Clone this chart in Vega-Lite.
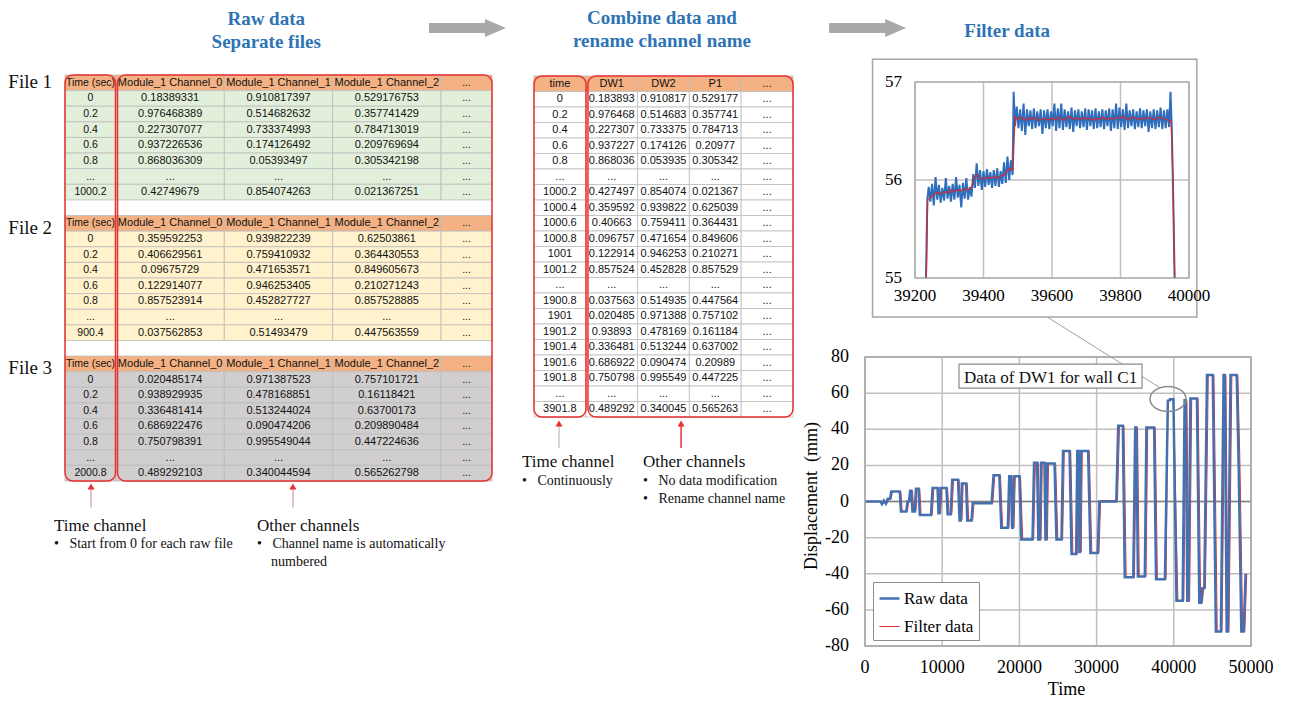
{
"$schema":"https://vega.github.io/schema/vega-lite/v6.json",
"width":1291,"height":704,"autosize":{"type":"none"},"padding":0,"background":"#ffffff",
"config":{"view":{"stroke":null}},
"resolve":{"scale":{"x":"independent","y":"independent"},"axis":{"x":"independent","y":"independent"}},
"datasets":{
"left":[
{"r":0,"k":"h","t":"Time (sec)","c0":"Module_1 Channel_0","c1":"Module_1 Channel_1","c2":"Module_1 Channel_2","d":"..."},
{"r":1,"k":"f1","t":"0","c0":"0.18389331","c1":"0.910817397","c2":"0.529176753","d":"..."},
{"r":2,"k":"f1","t":"0.2","c0":"0.976468389","c1":"0.514682632","c2":"0.357741429","d":"..."},
{"r":3,"k":"f1","t":"0.4","c0":"0.227307077","c1":"0.733374993","c2":"0.784713019","d":"..."},
{"r":4,"k":"f1","t":"0.6","c0":"0.937226536","c1":"0.174126492","c2":"0.209769694","d":"..."},
{"r":5,"k":"f1","t":"0.8","c0":"0.868036309","c1":"0.05393497","c2":"0.305342198","d":"..."},
{"r":6,"k":"f1","t":"...","c0":"...","c1":"...","c2":"...","d":"..."},
{"r":7,"k":"f1","t":"1000.2","c0":"0.42749679","c1":"0.854074263","c2":"0.021367251","d":"..."},
{"r":8,"k":"b","t":"","c0":"","c1":"","c2":"","d":""},
{"r":9,"k":"h","t":"Time (sec)","c0":"Module_1 Channel_0","c1":"Module_1 Channel_1","c2":"Module_1 Channel_2","d":"..."},
{"r":10,"k":"f2","t":"0","c0":"0.359592253","c1":"0.939822239","c2":"0.62503861","d":"..."},
{"r":11,"k":"f2","t":"0.2","c0":"0.406629561","c1":"0.759410932","c2":"0.364430553","d":"..."},
{"r":12,"k":"f2","t":"0.4","c0":"0.09675729","c1":"0.471653571","c2":"0.849605673","d":"..."},
{"r":13,"k":"f2","t":"0.6","c0":"0.122914077","c1":"0.946253405","c2":"0.210271243","d":"..."},
{"r":14,"k":"f2","t":"0.8","c0":"0.857523914","c1":"0.452827727","c2":"0.857528885","d":"..."},
{"r":15,"k":"f2","t":"...","c0":"...","c1":"...","c2":"...","d":"..."},
{"r":16,"k":"f2","t":"900.4","c0":"0.037562853","c1":"0.51493479","c2":"0.447563559","d":"..."},
{"r":17,"k":"b","t":"","c0":"","c1":"","c2":"","d":""},
{"r":18,"k":"h","t":"Time (sec)","c0":"Module_1 Channel_0","c1":"Module_1 Channel_1","c2":"Module_1 Channel_2","d":"..."},
{"r":19,"k":"f3","t":"0","c0":"0.020485174","c1":"0.971387523","c2":"0.757101721","d":"..."},
{"r":20,"k":"f3","t":"0.2","c0":"0.938929935","c1":"0.478168851","c2":"0.16118421","d":"..."},
{"r":21,"k":"f3","t":"0.4","c0":"0.336481414","c1":"0.513244024","c2":"0.63700173","d":"..."},
{"r":22,"k":"f3","t":"0.6","c0":"0.686922476","c1":"0.090474206","c2":"0.209890484","d":"..."},
{"r":23,"k":"f3","t":"0.8","c0":"0.750798391","c1":"0.995549044","c2":"0.447224636","d":"..."},
{"r":24,"k":"f3","t":"...","c0":"...","c1":"...","c2":"...","d":"..."},
{"r":25,"k":"f3","t":"2000.8","c0":"0.489292103","c1":"0.340044594","c2":"0.565262798","d":"..."}
],
"mid":[
{"r":0,"k":"h","t":"time","c0":"DW1","c1":"DW2","c2":"P1","d":"..."},
{"r":1,"k":"m","t":"0","c0":"0.183893","c1":"0.910817","c2":"0.529177","d":"..."},
{"r":2,"k":"m","t":"0.2","c0":"0.976468","c1":"0.514683","c2":"0.357741","d":"..."},
{"r":3,"k":"m","t":"0.4","c0":"0.227307","c1":"0.733375","c2":"0.784713","d":"..."},
{"r":4,"k":"m","t":"0.6","c0":"0.937227","c1":"0.174126","c2":"0.20977","d":"..."},
{"r":5,"k":"m","t":"0.8","c0":"0.868036","c1":"0.053935","c2":"0.305342","d":"..."},
{"r":6,"k":"m","t":"...","c0":"...","c1":"...","c2":"...","d":"..."},
{"r":7,"k":"m","t":"1000.2","c0":"0.427497","c1":"0.854074","c2":"0.021367","d":"..."},
{"r":8,"k":"m","t":"1000.4","c0":"0.359592","c1":"0.939822","c2":"0.625039","d":"..."},
{"r":9,"k":"m","t":"1000.6","c0":"0.40663","c1":"0.759411","c2":"0.364431","d":"..."},
{"r":10,"k":"m","t":"1000.8","c0":"0.096757","c1":"0.471654","c2":"0.849606","d":"..."},
{"r":11,"k":"m","t":"1001","c0":"0.122914","c1":"0.946253","c2":"0.210271","d":"..."},
{"r":12,"k":"m","t":"1001.2","c0":"0.857524","c1":"0.452828","c2":"0.857529","d":"..."},
{"r":13,"k":"m","t":"...","c0":"...","c1":"...","c2":"...","d":"..."},
{"r":14,"k":"m","t":"1900.8","c0":"0.037563","c1":"0.514935","c2":"0.447564","d":"..."},
{"r":15,"k":"m","t":"1901","c0":"0.020485","c1":"0.971388","c2":"0.757102","d":"..."},
{"r":16,"k":"m","t":"1901.2","c0":"0.93893","c1":"0.478169","c2":"0.161184","d":"..."},
{"r":17,"k":"m","t":"1901.4","c0":"0.336481","c1":"0.513244","c2":"0.637002","d":"..."},
{"r":18,"k":"m","t":"1901.6","c0":"0.686922","c1":"0.090474","c2":"0.20989","d":"..."},
{"r":19,"k":"m","t":"1901.8","c0":"0.750798","c1":"0.995549","c2":"0.447225","d":"..."},
{"r":20,"k":"m","t":"...","c0":"...","c1":"...","c2":"...","d":"..."},
{"r":21,"k":"m","t":"3901.8","c0":"0.489292","c1":"0.340045","c2":"0.565263","d":"..."}
],
"iticks":[
{"a":"x","v":39200,"lab":"39200"},{"a":"x","v":39400,"lab":"39400"},{"a":"x","v":39600,"lab":"39600"},{"a":"x","v":39800,"lab":"39800"},{"a":"x","v":40000,"lab":"40000"},
{"a":"y","v":55,"lab":"55"},{"a":"y","v":56,"lab":"56"},{"a":"y","v":57,"lab":"57"}
],
"mticks":[
{"a":"x","v":0,"lab":"0"},{"a":"x","v":10000,"lab":"10000"},{"a":"x","v":20000,"lab":"20000"},{"a":"x","v":30000,"lab":"30000"},{"a":"x","v":40000,"lab":"40000"},{"a":"x","v":50000,"lab":"50000"},
{"a":"y","v":-80,"lab":"-80"},{"a":"y","v":-60,"lab":"-60"},{"a":"y","v":-40,"lab":"-40"},{"a":"y","v":-20,"lab":"-20"},{"a":"y","v":0,"lab":"0"},{"a":"y","v":20,"lab":"20"},{"a":"y","v":40,"lab":"40"},{"a":"y","v":60,"lab":"60"},{"a":"y","v":80,"lab":"80"}
],
"inset":[
{"s":"r","t":39232,"v":55.0},{"s":"r","t":39236,"v":55.8},{"s":"r","t":39240,"v":55.93},{"s":"r","t":39245,"v":55.78},{"s":"r","t":39250,"v":55.96},{"s":"r","t":39255,"v":55.74},{"s":"r","t":39260,"v":56.03},{"s":"r","t":39265,"v":55.8},{"s":"r","t":39270,"v":55.95},{"s":"r","t":39275,"v":55.77},{"s":"r","t":39280,"v":55.92},{"s":"r","t":39285,"v":55.79},{"s":"r","t":39290,"v":56.02},{"s":"r","t":39295,"v":55.81},{"s":"r","t":39300,"v":55.94},{"s":"r","t":39305,"v":55.78},{"s":"r","t":39310,"v":55.96},{"s":"r","t":39315,"v":55.8},{"s":"r","t":39320,"v":56.03},{"s":"r","t":39325,"v":55.82},{"s":"r","t":39330,"v":55.95},{"s":"r","t":39335,"v":55.72},{"s":"r","t":39340,"v":55.97},{"s":"r","t":39345,"v":55.81},{"s":"r","t":39350,"v":56.02},{"s":"r","t":39355,"v":55.8},{"s":"r","t":39360,"v":55.93},{"s":"r","t":39365,"v":55.83},{"s":"r","t":39370,"v":56.06},{"s":"r","t":39375,"v":55.92},{"s":"r","t":39380,"v":56.17},{"s":"r","t":39385,"v":55.94},{"s":"r","t":39390,"v":56.1},{"s":"r","t":39395,"v":55.9},{"s":"r","t":39400,"v":56.09},{"s":"r","t":39405,"v":55.93},{"s":"r","t":39410,"v":56.11},{"s":"r","t":39415,"v":55.95},{"s":"r","t":39420,"v":56.08},{"s":"r","t":39425,"v":55.92},{"s":"r","t":39430,"v":56.1},{"s":"r","t":39435,"v":55.94},{"s":"r","t":39440,"v":56.12},{"s":"r","t":39445,"v":55.93},{"s":"r","t":39450,"v":56.09},{"s":"r","t":39455,"v":55.96},{"s":"r","t":39460,"v":56.18},{"s":"r","t":39465,"v":55.97},{"s":"r","t":39470,"v":56.24},{"s":"r","t":39475,"v":56.0},{"s":"r","t":39480,"v":56.2},{"s":"r","t":39485,"v":56.05},{"s":"r","t":39488,"v":56.9},
{"s":"r","t":39492,"v":56.55},{"s":"r","t":39497,"v":56.75},{"s":"r","t":39502,"v":56.53},{"s":"r","t":39507,"v":56.72},{"s":"r","t":39512,"v":56.5},{"s":"r","t":39517,"v":56.78},{"s":"r","t":39522,"v":56.46},{"s":"r","t":39527,"v":56.72},{"s":"r","t":39532,"v":56.55},{"s":"r","t":39537,"v":56.71},{"s":"r","t":39542,"v":56.52},{"s":"r","t":39547,"v":56.73},{"s":"r","t":39552,"v":56.53},{"s":"r","t":39557,"v":56.7},{"s":"r","t":39562,"v":56.55},{"s":"r","t":39567,"v":56.72},{"s":"r","t":39572,"v":56.47},{"s":"r","t":39577,"v":56.71},{"s":"r","t":39582,"v":56.53},{"s":"r","t":39587,"v":56.72},{"s":"r","t":39592,"v":56.52},{"s":"r","t":39597,"v":56.7},{"s":"r","t":39602,"v":56.55},{"s":"r","t":39607,"v":56.78},{"s":"r","t":39612,"v":56.5},{"s":"r","t":39617,"v":56.73},{"s":"r","t":39622,"v":56.53},{"s":"r","t":39627,"v":56.78},{"s":"r","t":39632,"v":56.51},{"s":"r","t":39637,"v":56.72},{"s":"r","t":39642,"v":56.54},{"s":"r","t":39647,"v":56.7},{"s":"r","t":39652,"v":56.52},{"s":"r","t":39657,"v":56.74},{"s":"r","t":39662,"v":56.49},{"s":"r","t":39667,"v":56.71},{"s":"r","t":39672,"v":56.55},{"s":"r","t":39677,"v":56.72},{"s":"r","t":39682,"v":56.53},{"s":"r","t":39687,"v":56.7},{"s":"r","t":39692,"v":56.54},{"s":"r","t":39697,"v":56.73},{"s":"r","t":39702,"v":56.51},{"s":"r","t":39707,"v":56.72},{"s":"r","t":39712,"v":56.55},{"s":"r","t":39717,"v":56.71},{"s":"r","t":39722,"v":56.52},{"s":"r","t":39727,"v":56.73},{"s":"r","t":39732,"v":56.53},{"s":"r","t":39737,"v":56.7},{"s":"r","t":39742,"v":56.54},{"s":"r","t":39747,"v":56.72},{"s":"r","t":39752,"v":56.52},{"s":"r","t":39757,"v":56.71},{"s":"r","t":39762,"v":56.55},{"s":"r","t":39767,"v":56.73},{"s":"r","t":39772,"v":56.5},{"s":"r","t":39777,"v":56.72},{"s":"r","t":39782,"v":56.53},{"s":"r","t":39787,"v":56.78},{"s":"r","t":39792,"v":56.52},{"s":"r","t":39797,"v":56.74},{"s":"r","t":39802,"v":56.54},{"s":"r","t":39807,"v":56.72},{"s":"r","t":39812,"v":56.51},{"s":"r","t":39817,"v":56.78},{"s":"r","t":39822,"v":56.53},{"s":"r","t":39827,"v":56.71},{"s":"r","t":39832,"v":56.55},{"s":"r","t":39837,"v":56.72},{"s":"r","t":39842,"v":56.52},{"s":"r","t":39847,"v":56.7},{"s":"r","t":39852,"v":56.54},{"s":"r","t":39857,"v":56.73},{"s":"r","t":39862,"v":56.53},{"s":"r","t":39867,"v":56.71},{"s":"r","t":39872,"v":56.55},{"s":"r","t":39877,"v":56.72},{"s":"r","t":39882,"v":56.49},{"s":"r","t":39887,"v":56.7},{"s":"r","t":39892,"v":56.53},{"s":"r","t":39897,"v":56.72},{"s":"r","t":39902,"v":56.52},{"s":"r","t":39907,"v":56.71},{"s":"r","t":39912,"v":56.54},{"s":"r","t":39917,"v":56.74},{"s":"r","t":39922,"v":56.52},{"s":"r","t":39927,"v":56.71},{"s":"r","t":39932,"v":56.53},{"s":"r","t":39937,"v":56.72},{"s":"r","t":39942,"v":56.54},{"s":"r","t":39946,"v":56.9},{"s":"r","t":39950,"v":56.5},{"s":"r","t":39954,"v":55.8},{"s":"r","t":39958,"v":55.0},
{"s":"f","t":39233,"v":55.0},{"s":"f","t":39237,"v":55.8},{"s":"f","t":39245,"v":55.82},{"s":"f","t":39255,"v":55.85},{"s":"f","t":39265,"v":55.87},{"s":"f","t":39275,"v":55.86},{"s":"f","t":39285,"v":55.88},{"s":"f","t":39295,"v":55.87},{"s":"f","t":39305,"v":55.9},{"s":"f","t":39315,"v":55.88},{"s":"f","t":39325,"v":55.9},{"s":"f","t":39335,"v":55.89},{"s":"f","t":39345,"v":55.91},{"s":"f","t":39355,"v":55.9},{"s":"f","t":39365,"v":55.92},{"s":"f","t":39372,"v":56.03},{"s":"f","t":39380,"v":56.05},{"s":"f","t":39390,"v":56.02},{"s":"f","t":39400,"v":56.01},{"s":"f","t":39410,"v":56.03},{"s":"f","t":39420,"v":56.02},{"s":"f","t":39430,"v":56.03},{"s":"f","t":39440,"v":56.02},{"s":"f","t":39450,"v":56.04},{"s":"f","t":39460,"v":56.05},{"s":"f","t":39470,"v":56.1},{"s":"f","t":39480,"v":56.12},{"s":"f","t":39486,"v":56.1},{"s":"f","t":39492,"v":56.65},{"s":"f","t":39500,"v":56.62},{"s":"f","t":39510,"v":56.64},{"s":"f","t":39520,"v":56.61},{"s":"f","t":39530,"v":56.63},{"s":"f","t":39540,"v":56.62},{"s":"f","t":39550,"v":56.64},{"s":"f","t":39560,"v":56.61},{"s":"f","t":39570,"v":56.62},{"s":"f","t":39580,"v":56.63},{"s":"f","t":39590,"v":56.61},{"s":"f","t":39600,"v":56.63},{"s":"f","t":39610,"v":56.62},{"s":"f","t":39620,"v":56.64},{"s":"f","t":39630,"v":56.61},{"s":"f","t":39640,"v":56.63},{"s":"f","t":39650,"v":56.65},{"s":"f","t":39660,"v":56.62},{"s":"f","t":39670,"v":56.63},{"s":"f","t":39680,"v":56.62},{"s":"f","t":39690,"v":56.64},{"s":"f","t":39700,"v":56.62},{"s":"f","t":39710,"v":56.63},{"s":"f","t":39720,"v":56.61},{"s":"f","t":39730,"v":56.63},{"s":"f","t":39740,"v":56.62},{"s":"f","t":39750,"v":56.64},{"s":"f","t":39760,"v":56.62},{"s":"f","t":39770,"v":56.63},{"s":"f","t":39780,"v":56.62},{"s":"f","t":39790,"v":56.64},{"s":"f","t":39800,"v":56.63},{"s":"f","t":39810,"v":56.65},{"s":"f","t":39820,"v":56.62},{"s":"f","t":39830,"v":56.63},{"s":"f","t":39840,"v":56.64},{"s":"f","t":39850,"v":56.62},{"s":"f","t":39860,"v":56.63},{"s":"f","t":39870,"v":56.62},{"s":"f","t":39880,"v":56.64},{"s":"f","t":39890,"v":56.63},{"s":"f","t":39900,"v":56.62},{"s":"f","t":39910,"v":56.64},{"s":"f","t":39920,"v":56.63},{"s":"f","t":39930,"v":56.62},{"s":"f","t":39940,"v":56.61},{"s":"f","t":39948,"v":56.6},{"s":"f","t":39953,"v":56.0},{"s":"f","t":39958,"v":55.0}
],
"main":[
{"s":"Raw data","t":0,"v":0},{"s":"Raw data","t":2000,"v":0},{"s":"Raw data","t":2200,"v":-1.5},{"s":"Raw data","t":2450,"v":0.5},{"s":"Raw data","t":2700,"v":-1.2},{"s":"Raw data","t":2950,"v":1.5},{"s":"Raw data","t":3250,"v":1.5},{"s":"Raw data","t":3400,"v":5.5},{"s":"Raw data","t":4500,"v":5.5},{"s":"Raw data","t":4650,"v":-5.5},{"s":"Raw data","t":5350,"v":-5.5},{"s":"Raw data","t":5500,"v":0},{"s":"Raw data","t":5700,"v":0},{"s":"Raw data","t":5850,"v":6},{"s":"Raw data","t":6000,"v":6},{"s":"Raw data","t":6150,"v":-5.5},{"s":"Raw data","t":6450,"v":-5.5},{"s":"Raw data","t":6600,"v":7},{"s":"Raw data","t":6950,"v":7},{"s":"Raw data","t":7100,"v":-7.5},{"s":"Raw data","t":8550,"v":-7.5},{"s":"Raw data","t":8750,"v":7.5},{"s":"Raw data","t":9400,"v":7.5},{"s":"Raw data","t":9520,"v":-6.5},{"s":"Raw data","t":9650,"v":-6.5},{"s":"Raw data","t":9780,"v":7.5},{"s":"Raw data","t":10550,"v":7.5},{"s":"Raw data","t":10700,"v":-7},{"s":"Raw data","t":11100,"v":-7},{"s":"Raw data","t":11300,"v":12},{"s":"Raw data","t":12050,"v":12},{"s":"Raw data","t":12250,"v":-10.5},{"s":"Raw data","t":12400,"v":-10.5},{"s":"Raw data","t":12550,"v":10},{"s":"Raw data","t":13100,"v":10},{"s":"Raw data","t":13250,"v":-10.5},{"s":"Raw data","t":13800,"v":-10.5},{"s":"Raw data","t":13950,"v":-1},{"s":"Raw data","t":16400,"v":-1},{"s":"Raw data","t":16650,"v":14.5},{"s":"Raw data","t":17400,"v":14.5},{"s":"Raw data","t":17650,"v":-14.5},{"s":"Raw data","t":18500,"v":-14.5},{"s":"Raw data","t":18680,"v":14},{"s":"Raw data","t":18900,"v":14},{"s":"Raw data","t":19050,"v":-14.5},{"s":"Raw data","t":19150,"v":-14.5},{"s":"Raw data","t":19300,"v":14},{"s":"Raw data","t":20000,"v":14},{"s":"Raw data","t":20250,"v":-21},{"s":"Raw data","t":21700,"v":-21},{"s":"Raw data","t":21900,"v":21.5},{"s":"Raw data","t":22300,"v":21.5},{"s":"Raw data","t":22450,"v":-21},{"s":"Raw data","t":22650,"v":-21},{"s":"Raw data","t":22800,"v":21.5},{"s":"Raw data","t":23250,"v":21.5},{"s":"Raw data","t":23380,"v":-21},{"s":"Raw data","t":23480,"v":-21},{"s":"Raw data","t":23600,"v":21},{"s":"Raw data","t":24550,"v":21},{"s":"Raw data","t":24800,"v":-21},{"s":"Raw data","t":25450,"v":-21},{"s":"Raw data","t":25650,"v":28},{"s":"Raw data","t":26500,"v":28},{"s":"Raw data","t":26750,"v":-29},{"s":"Raw data","t":27350,"v":-29},{"s":"Raw data","t":27500,"v":28},{"s":"Raw data","t":27650,"v":28},{"s":"Raw data","t":27780,"v":-28},{"s":"Raw data","t":27850,"v":-28},{"s":"Raw data","t":27980,"v":28},{"s":"Raw data","t":28900,"v":28},{"s":"Raw data","t":29200,"v":-28.5},{"s":"Raw data","t":30150,"v":-28.5},{"s":"Raw data","t":30350,"v":0},{"s":"Raw data","t":32550,"v":0},{"s":"Raw data","t":32800,"v":42},{"s":"Raw data","t":33400,"v":42},{"s":"Raw data","t":33650,"v":-42},{"s":"Raw data","t":34750,"v":-42},{"s":"Raw data","t":35000,"v":41},{"s":"Raw data","t":35150,"v":41},{"s":"Raw data","t":35350,"v":-41.5},{"s":"Raw data","t":36250,"v":-41.5},{"s":"Raw data","t":36450,"v":41},{"s":"Raw data","t":37450,"v":41},{"s":"Raw data","t":37700,"v":-43},{"s":"Raw data","t":38850,"v":-43},{"s":"Raw data","t":39230,"v":55.8},{"s":"Raw data","t":39480,"v":56.1},{"s":"Raw data","t":39500,"v":56.6},{"s":"Raw data","t":39950,"v":56.6},{"s":"Raw data","t":40350,"v":-55},{"s":"Raw data","t":41150,"v":-55},{"s":"Raw data","t":41400,"v":56},{"s":"Raw data","t":41550,"v":56},{"s":"Raw data","t":41750,"v":-55},{"s":"Raw data","t":41900,"v":-55},{"s":"Raw data","t":42150,"v":57},{"s":"Raw data","t":43000,"v":57},{"s":"Raw data","t":43300,"v":-56},{"s":"Raw data","t":43550,"v":-56},{"s":"Raw data","t":43700,"v":-48},{"s":"Raw data","t":43950,"v":-48},{"s":"Raw data","t":44300,"v":70},{"s":"Raw data","t":45050,"v":70},{"s":"Raw data","t":45450,"v":-72},{"s":"Raw data","t":46100,"v":-72},{"s":"Raw data","t":46450,"v":70},{"s":"Raw data","t":46600,"v":70},{"s":"Raw data","t":46850,"v":-72},{"s":"Raw data","t":47000,"v":-72},{"s":"Raw data","t":47350,"v":70},{"s":"Raw data","t":48150,"v":70},{"s":"Raw data","t":48400,"v":20},{"s":"Raw data","t":48750,"v":-72},{"s":"Raw data","t":49050,"v":-72},{"s":"Raw data","t":49300,"v":-40},
{"s":"Filter data","t":0,"v":0},{"s":"Filter data","t":2100,"v":0},{"s":"Filter data","t":2350,"v":-1.2},{"s":"Filter data","t":2600,"v":0.3},{"s":"Filter data","t":2850,"v":-1},{"s":"Filter data","t":3100,"v":1.2},{"s":"Filter data","t":3400,"v":1.5},{"s":"Filter data","t":3550,"v":5.5},{"s":"Filter data","t":4650,"v":5.5},{"s":"Filter data","t":4820,"v":-5.5},{"s":"Filter data","t":5500,"v":-5.5},{"s":"Filter data","t":5650,"v":0},{"s":"Filter data","t":5850,"v":0},{"s":"Filter data","t":6000,"v":6},{"s":"Filter data","t":6150,"v":6},{"s":"Filter data","t":6320,"v":-5.5},{"s":"Filter data","t":6600,"v":-5.5},{"s":"Filter data","t":6760,"v":7},{"s":"Filter data","t":7100,"v":7},{"s":"Filter data","t":7270,"v":-7.5},{"s":"Filter data","t":8700,"v":-7.5},{"s":"Filter data","t":8920,"v":7.5},{"s":"Filter data","t":9550,"v":7.5},{"s":"Filter data","t":9700,"v":-6.5},{"s":"Filter data","t":9800,"v":-6.5},{"s":"Filter data","t":9950,"v":7.5},{"s":"Filter data","t":10700,"v":7.5},{"s":"Filter data","t":10880,"v":-7},{"s":"Filter data","t":11250,"v":-7},{"s":"Filter data","t":11470,"v":12},{"s":"Filter data","t":12200,"v":12},{"s":"Filter data","t":12430,"v":-10.5},{"s":"Filter data","t":12560,"v":-10.5},{"s":"Filter data","t":12720,"v":10},{"s":"Filter data","t":13250,"v":10},{"s":"Filter data","t":13430,"v":-10.5},{"s":"Filter data","t":13950,"v":-10.5},{"s":"Filter data","t":14120,"v":-1},{"s":"Filter data","t":16550,"v":-1},{"s":"Filter data","t":16820,"v":14.5},{"s":"Filter data","t":17550,"v":14.5},{"s":"Filter data","t":17830,"v":-14.5},{"s":"Filter data","t":18650,"v":-14.5},{"s":"Filter data","t":18850,"v":14},{"s":"Filter data","t":19050,"v":14},{"s":"Filter data","t":19230,"v":-14.5},{"s":"Filter data","t":19300,"v":-14.5},{"s":"Filter data","t":19470,"v":14},{"s":"Filter data","t":20150,"v":14},{"s":"Filter data","t":20430,"v":-21},{"s":"Filter data","t":21850,"v":-21},{"s":"Filter data","t":22070,"v":21.5},{"s":"Filter data","t":22450,"v":21.5},{"s":"Filter data","t":22630,"v":-21},{"s":"Filter data","t":22800,"v":-21},{"s":"Filter data","t":22970,"v":21.5},{"s":"Filter data","t":23400,"v":21.5},{"s":"Filter data","t":23560,"v":-21},{"s":"Filter data","t":23630,"v":-21},{"s":"Filter data","t":23770,"v":21},{"s":"Filter data","t":24700,"v":21},{"s":"Filter data","t":24980,"v":-21},{"s":"Filter data","t":25600,"v":-21},{"s":"Filter data","t":25820,"v":28},{"s":"Filter data","t":26650,"v":28},{"s":"Filter data","t":26930,"v":-29},{"s":"Filter data","t":27500,"v":-29},{"s":"Filter data","t":27670,"v":28},{"s":"Filter data","t":27800,"v":28},{"s":"Filter data","t":27960,"v":-28},{"s":"Filter data","t":28000,"v":-28},{"s":"Filter data","t":28150,"v":28},{"s":"Filter data","t":29050,"v":28},{"s":"Filter data","t":29380,"v":-28.5},{"s":"Filter data","t":30300,"v":-28.5},{"s":"Filter data","t":30520,"v":0.5},{"s":"Filter data","t":32700,"v":0.5},{"s":"Filter data","t":32970,"v":42},{"s":"Filter data","t":33550,"v":42},{"s":"Filter data","t":33830,"v":-42},{"s":"Filter data","t":34900,"v":-42},{"s":"Filter data","t":35170,"v":41},{"s":"Filter data","t":35300,"v":41},{"s":"Filter data","t":35530,"v":-41.5},{"s":"Filter data","t":36400,"v":-41.5},{"s":"Filter data","t":36620,"v":41},{"s":"Filter data","t":37600,"v":41},{"s":"Filter data","t":37880,"v":-43},{"s":"Filter data","t":39000,"v":-43},{"s":"Filter data","t":39240,"v":55.8},{"s":"Filter data","t":39490,"v":56.1},{"s":"Filter data","t":39510,"v":56.6},{"s":"Filter data","t":39960,"v":56.6},{"s":"Filter data","t":40530,"v":-55},{"s":"Filter data","t":41300,"v":-55},{"s":"Filter data","t":41570,"v":56},{"s":"Filter data","t":41700,"v":56},{"s":"Filter data","t":41930,"v":-55},{"s":"Filter data","t":42050,"v":-55},{"s":"Filter data","t":42320,"v":57},{"s":"Filter data","t":43150,"v":57},{"s":"Filter data","t":43480,"v":-56},{"s":"Filter data","t":43700,"v":-56},{"s":"Filter data","t":43870,"v":-48},{"s":"Filter data","t":44100,"v":-48},{"s":"Filter data","t":44470,"v":70},{"s":"Filter data","t":45200,"v":70},{"s":"Filter data","t":45630,"v":-72},{"s":"Filter data","t":46250,"v":-72},{"s":"Filter data","t":46620,"v":70},{"s":"Filter data","t":46750,"v":70},{"s":"Filter data","t":47030,"v":-72},{"s":"Filter data","t":47150,"v":-72},{"s":"Filter data","t":47520,"v":70},{"s":"Filter data","t":48300,"v":70},{"s":"Filter data","t":48570,"v":20},{"s":"Filter data","t":48930,"v":-72},{"s":"Filter data","t":49200,"v":-72},{"s":"Filter data","t":49450,"v":-40}
]
},
"layer":[
{
"data":{"name":"left"},
"transform":[{"fold":["t","c0","c1","c2","d"],"as":["col","txt"]},{"filter":{"field":"col","oneOf":["t"]}}],
"encoding":{
"x":{"field":"col","type":"nominal","scale":{"type":"band","domain":["t"],"range":[65,116],"paddingInner":0,"paddingOuter":0},"axis":null},
"y":{"field":"r","type":"ordinal","scale":{"type":"band","domain":[0,1,2,3,4,5,6,7,8,9,10,11,12,13,14,15,16,17,18,19,20,21,22,23,24,25],"range":[75,481],"paddingInner":0,"paddingOuter":0},"axis":null}
},
"layer":[
{"transform":[{"filter":"datum.k !== 'b'"}],"mark":{"type":"rect","stroke":"#BDBDBD","strokeWidth":0.8},"encoding":{"fill":{"field":"k","type":"nominal","scale":{"domain":["h","f1","f2","f3","b","m"],"range":["#F4B183","#E2EFDA","#FFF2CC","#D0CECE","#FFFFFF","#FFFFFF"]},"legend":null}}},
{"mark":{"type":"text","font":"Liberation Sans","fontSize":10.5,"color":"#111111"},"encoding":{"text":{"field":"txt","type":"nominal"}}}
]
},
{
"data":{"name":"left"},
"transform":[{"fold":["t","c0","c1","c2","d"],"as":["col","txt"]},{"filter":{"field":"col","oneOf":["c0","c1","c2"]}}],
"encoding":{
"x":{"field":"col","type":"nominal","scale":{"type":"band","domain":["c0","c1","c2"],"range":[116,441],"paddingInner":0,"paddingOuter":0},"axis":null},
"y":{"field":"r","type":"ordinal","scale":{"type":"band","domain":[0,1,2,3,4,5,6,7,8,9,10,11,12,13,14,15,16,17,18,19,20,21,22,23,24,25],"range":[75,481],"paddingInner":0,"paddingOuter":0},"axis":null}
},
"layer":[
{"transform":[{"filter":"datum.k !== 'b'"}],"mark":{"type":"rect","stroke":"#BDBDBD","strokeWidth":0.8},"encoding":{"fill":{"field":"k","type":"nominal","scale":{"domain":["h","f1","f2","f3","b","m"],"range":["#F4B183","#E2EFDA","#FFF2CC","#D0CECE","#FFFFFF","#FFFFFF"]},"legend":null}}},
{"mark":{"type":"text","font":"Liberation Sans","fontSize":11,"color":"#111111"},"encoding":{"text":{"field":"txt","type":"nominal"}}}
]
},
{
"data":{"name":"left"},
"transform":[{"fold":["t","c0","c1","c2","d"],"as":["col","txt"]},{"filter":{"field":"col","oneOf":["d"]}}],
"encoding":{
"x":{"field":"col","type":"nominal","scale":{"type":"band","domain":["d"],"range":[441,492],"paddingInner":0,"paddingOuter":0},"axis":null},
"y":{"field":"r","type":"ordinal","scale":{"type":"band","domain":[0,1,2,3,4,5,6,7,8,9,10,11,12,13,14,15,16,17,18,19,20,21,22,23,24,25],"range":[75,481],"paddingInner":0,"paddingOuter":0},"axis":null}
},
"layer":[
{"transform":[{"filter":"datum.k !== 'b'"}],"mark":{"type":"rect","stroke":"#BDBDBD","strokeWidth":0.8},"encoding":{"fill":{"field":"k","type":"nominal","scale":{"domain":["h","f1","f2","f3","b","m"],"range":["#F4B183","#E2EFDA","#FFF2CC","#D0CECE","#FFFFFF","#FFFFFF"]},"legend":null}}},
{"mark":{"type":"text","font":"Liberation Sans","fontSize":10.5,"color":"#111111"},"encoding":{"text":{"field":"txt","type":"nominal"}}}
]
},
{
"data":{"name":"mid"},
"transform":[{"fold":["t","c0","c1","c2","d"],"as":["col","txt"]}],
"encoding":{
"x":{"field":"col","type":"nominal","scale":{"type":"band","domain":["t","c0","c1","c2","d"],"range":[534,793],"paddingInner":0,"paddingOuter":0},"axis":null},
"y":{"field":"r","type":"ordinal","scale":{"type":"band","domain":[0,1,2,3,4,5,6,7,8,9,10,11,12,13,14,15,16,17,18,19,20,21],"range":[76,417],"paddingInner":0,"paddingOuter":0},"axis":null}
},
"layer":[
{"mark":{"type":"rect","stroke":"#BDBDBD","strokeWidth":0.8},"encoding":{"fill":{"field":"k","type":"nominal","scale":{"domain":["h","f1","f2","f3","b","m"],"range":["#F4B183","#E2EFDA","#FFF2CC","#D0CECE","#FFFFFF","#FFFFFF"]},"legend":null}}},
{"mark":{"type":"text","font":"Liberation Sans","fontSize":11,"color":"#111111"},"encoding":{"text":{"field":"txt","type":"nominal"}}}
]
},
{
"data":{"values":[{}]},
"layer":[
{"mark":{"type":"rect","filled":false,"color":"#E8312F","strokeWidth":1.5,"cornerRadius":8},"encoding":{"x":{"datum":0,"type":"quantitative","scale":{"domain":[0,8],"range":[65,492],"nice":false,"zero":false},"axis":null},"x2":{"datum":0.946},"y":{"datum":0,"type":"quantitative","scale":{"domain":[0,26],"range":[75,481],"nice":false,"zero":false},"axis":null},"y2":{"datum":26}}},
{"mark":{"type":"rect","filled":false,"color":"#E8312F","strokeWidth":1.5,"cornerRadius":8},"encoding":{"x":{"datum":0.984,"type":"quantitative","scale":{"domain":[0,8],"range":[65,492],"nice":false,"zero":false},"axis":null},"x2":{"datum":8},"y":{"datum":0,"type":"quantitative","scale":{"domain":[0,26],"range":[75,481],"nice":false,"zero":false},"axis":null},"y2":{"datum":26}}},
{"mark":{"type":"text","text":"Raw data","font":"Liberation Serif","fontSize":19,"fontWeight":"bold","color":"#2E74B5","align":"center","baseline":"alphabetic"},"encoding":{"x":{"datum":3.77,"type":"quantitative","scale":{"domain":[0,8],"range":[65,492],"nice":false,"zero":false},"axis":null},"y":{"datum":-3.21,"type":"quantitative","scale":{"domain":[0,26],"range":[75,481],"nice":false,"zero":false},"axis":null}}},
{"mark":{"type":"text","text":"Separate files","font":"Liberation Serif","fontSize":19,"fontWeight":"bold","color":"#2E74B5","align":"center","baseline":"alphabetic"},"encoding":{"x":{"datum":3.77,"type":"quantitative","scale":{"domain":[0,8],"range":[65,492],"nice":false,"zero":false},"axis":null},"y":{"datum":-1.73,"type":"quantitative","scale":{"domain":[0,26],"range":[75,481],"nice":false,"zero":false},"axis":null}}},
{"mark":{"type":"point","shape":"M-1,-0.13L0.455,-0.13L0.455,-0.234L1,0L0.455,0.234L0.455,0.13L-1,0.13Z","size":5929,"filled":true,"color":"#A9A9A9","opacity":1,"strokeWidth":0},"encoding":{"x":{"datum":7.54,"type":"quantitative","scale":{"domain":[0,8],"range":[65,492],"nice":false,"zero":false},"axis":null},"y":{"datum":-3.01,"type":"quantitative","scale":{"domain":[0,26],"range":[75,481],"nice":false,"zero":false},"axis":null}}},
{"mark":{"type":"text","text":"File 1","font":"Liberation Serif","fontSize":19,"color":"#111111","align":"left","baseline":"alphabetic"},"encoding":{"x":{"datum":-1.062,"type":"quantitative","scale":{"domain":[0,8],"range":[65,492],"nice":false,"zero":false},"axis":null},"y":{"datum":0.83,"type":"quantitative","scale":{"domain":[0,26],"range":[75,481],"nice":false,"zero":false},"axis":null}}},
{"mark":{"type":"text","text":"File 2","font":"Liberation Serif","fontSize":19,"color":"#111111","align":"left","baseline":"alphabetic"},"encoding":{"x":{"datum":-1.062,"type":"quantitative","scale":{"domain":[0,8],"range":[65,492],"nice":false,"zero":false},"axis":null},"y":{"datum":10.19,"type":"quantitative","scale":{"domain":[0,26],"range":[75,481],"nice":false,"zero":false},"axis":null}}},
{"mark":{"type":"text","text":"File 3","font":"Liberation Serif","fontSize":19,"color":"#111111","align":"left","baseline":"alphabetic"},"encoding":{"x":{"datum":-1.062,"type":"quantitative","scale":{"domain":[0,8],"range":[65,492],"nice":false,"zero":false},"axis":null},"y":{"datum":19.17,"type":"quantitative","scale":{"domain":[0,26],"range":[75,481],"nice":false,"zero":false},"axis":null}}},
{"mark":{"type":"rule","color":"#D9AFAF","strokeWidth":1.5},"encoding":{"x":{"datum":0.488,"type":"quantitative","scale":{"domain":[0,8],"range":[65,492],"nice":false,"zero":false},"axis":null},"y":{"datum":26.5,"type":"quantitative","scale":{"domain":[0,26],"range":[75,481],"nice":false,"zero":false},"axis":null},"y2":{"datum":27.7}}},
{"mark":{"type":"rule","color":"#D9AFAF","strokeWidth":1.5},"encoding":{"x":{"datum":4.27,"type":"quantitative","scale":{"domain":[0,8],"range":[65,492],"nice":false,"zero":false},"axis":null},"y":{"datum":26.5,"type":"quantitative","scale":{"domain":[0,26],"range":[75,481],"nice":false,"zero":false},"axis":null},"y2":{"datum":27.7}}},
{"mark":{"type":"point","shape":"triangle-up","size":50,"filled":true,"color":"#E8312F","opacity":1,"strokeWidth":0},"encoding":{"x":{"datum":0.488,"type":"quantitative","scale":{"domain":[0,8],"range":[65,492],"nice":false,"zero":false},"axis":null},"y":{"datum":26.35,"type":"quantitative","scale":{"domain":[0,26],"range":[75,481],"nice":false,"zero":false},"axis":null}}},
{"mark":{"type":"point","shape":"triangle-up","size":50,"filled":true,"color":"#E8312F","opacity":1,"strokeWidth":0},"encoding":{"x":{"datum":4.27,"type":"quantitative","scale":{"domain":[0,8],"range":[65,492],"nice":false,"zero":false},"axis":null},"y":{"datum":26.35,"type":"quantitative","scale":{"domain":[0,26],"range":[75,481],"nice":false,"zero":false},"axis":null}}},
{"mark":{"type":"text","text":"Time channel","font":"Liberation Serif","fontSize":17,"color":"#111111","align":"left","baseline":"alphabetic"},"encoding":{"x":{"datum":-0.206,"type":"quantitative","scale":{"domain":[0,8],"range":[65,492],"nice":false,"zero":false},"axis":null},"y":{"datum":29.17,"type":"quantitative","scale":{"domain":[0,26],"range":[75,481],"nice":false,"zero":false},"axis":null}}},
{"mark":{"type":"text","text":"•\u00a0\u00a0\u00a0Start from 0 for each raw file","font":"Liberation Serif","fontSize":14,"color":"#111111","align":"left","baseline":"alphabetic"},"encoding":{"x":{"datum":-0.206,"type":"quantitative","scale":{"domain":[0,8],"range":[65,492],"nice":false,"zero":false},"axis":null},"y":{"datum":30.32,"type":"quantitative","scale":{"domain":[0,26],"range":[75,481],"nice":false,"zero":false},"axis":null}}},
{"mark":{"type":"text","text":"Other channels","font":"Liberation Serif","fontSize":17,"color":"#111111","align":"left","baseline":"alphabetic"},"encoding":{"x":{"datum":3.597,"type":"quantitative","scale":{"domain":[0,8],"range":[65,492],"nice":false,"zero":false},"axis":null},"y":{"datum":29.17,"type":"quantitative","scale":{"domain":[0,26],"range":[75,481],"nice":false,"zero":false},"axis":null}}},
{"mark":{"type":"text","text":"•\u00a0\u00a0\u00a0Channel name is automatically","font":"Liberation Serif","fontSize":14,"color":"#111111","align":"left","baseline":"alphabetic"},"encoding":{"x":{"datum":3.597,"type":"quantitative","scale":{"domain":[0,8],"range":[65,492],"nice":false,"zero":false},"axis":null},"y":{"datum":30.32,"type":"quantitative","scale":{"domain":[0,26],"range":[75,481],"nice":false,"zero":false},"axis":null}}},
{"mark":{"type":"text","text":"numbered","font":"Liberation Serif","fontSize":14,"color":"#111111","align":"left","baseline":"alphabetic"},"encoding":{"x":{"datum":3.86,"type":"quantitative","scale":{"domain":[0,8],"range":[65,492],"nice":false,"zero":false},"axis":null},"y":{"datum":31.47,"type":"quantitative","scale":{"domain":[0,26],"range":[75,481],"nice":false,"zero":false},"axis":null}}}
]
},
{
"data":{"values":[{}]},
"layer":[
{"mark":{"type":"rect","filled":false,"color":"#E8312F","strokeWidth":1.5,"cornerRadius":8},"encoding":{"x":{"datum":0,"type":"quantitative","scale":{"domain":[0,5],"range":[534,793],"nice":false,"zero":false},"axis":null},"x2":{"datum":1.004},"y":{"datum":0,"type":"quantitative","scale":{"domain":[0,22],"range":[76,417],"nice":false,"zero":false},"axis":null},"y2":{"datum":22}}},
{"mark":{"type":"rect","filled":false,"color":"#E8312F","strokeWidth":1.5,"cornerRadius":8},"encoding":{"x":{"datum":1.042,"type":"quantitative","scale":{"domain":[0,5],"range":[534,793],"nice":false,"zero":false},"axis":null},"x2":{"datum":5},"y":{"datum":0,"type":"quantitative","scale":{"domain":[0,22],"range":[76,417],"nice":false,"zero":false},"axis":null},"y2":{"datum":22}}},
{"mark":{"type":"text","text":"Combine data and","font":"Liberation Serif","fontSize":19,"fontWeight":"bold","color":"#2E74B5","align":"center","baseline":"alphabetic"},"encoding":{"x":{"datum":2.47,"type":"quantitative","scale":{"domain":[0,5],"range":[534,793],"nice":false,"zero":false},"axis":null},"y":{"datum":-3.35,"type":"quantitative","scale":{"domain":[0,22],"range":[76,417],"nice":false,"zero":false},"axis":null}}},
{"mark":{"type":"text","text":"rename channel name","font":"Liberation Serif","fontSize":19,"fontWeight":"bold","color":"#2E74B5","align":"center","baseline":"alphabetic"},"encoding":{"x":{"datum":2.47,"type":"quantitative","scale":{"domain":[0,5],"range":[534,793],"nice":false,"zero":false},"axis":null},"y":{"datum":-1.87,"type":"quantitative","scale":{"domain":[0,22],"range":[76,417],"nice":false,"zero":false},"axis":null}}},
{"mark":{"type":"point","shape":"M-1,-0.13L0.455,-0.13L0.455,-0.234L1,0L0.455,0.234L0.455,0.13L-1,0.13Z","size":5929,"filled":true,"color":"#A9A9A9","opacity":1,"strokeWidth":0},"encoding":{"x":{"datum":6.44,"type":"quantitative","scale":{"domain":[0,5],"range":[534,793],"nice":false,"zero":false},"axis":null},"y":{"datum":-3.1,"type":"quantitative","scale":{"domain":[0,22],"range":[76,417],"nice":false,"zero":false},"axis":null}}},
{"mark":{"type":"rule","color":"#C9C9C9","strokeWidth":1.5},"encoding":{"x":{"datum":0.483,"type":"quantitative","scale":{"domain":[0,5],"range":[534,793],"nice":false,"zero":false},"axis":null},"y":{"datum":22.58,"type":"quantitative","scale":{"domain":[0,22],"range":[76,417],"nice":false,"zero":false},"axis":null},"y2":{"datum":24.0}}},
{"mark":{"type":"rule","color":"#E8312F","strokeWidth":1.5},"encoding":{"x":{"datum":2.84,"type":"quantitative","scale":{"domain":[0,5],"range":[534,793],"nice":false,"zero":false},"axis":null},"y":{"datum":22.58,"type":"quantitative","scale":{"domain":[0,22],"range":[76,417],"nice":false,"zero":false},"axis":null},"y2":{"datum":24.0}}},
{"mark":{"type":"point","shape":"triangle-up","size":50,"filled":true,"color":"#E8312F","opacity":1,"strokeWidth":0},"encoding":{"x":{"datum":0.483,"type":"quantitative","scale":{"domain":[0,5],"range":[534,793],"nice":false,"zero":false},"axis":null},"y":{"datum":22.42,"type":"quantitative","scale":{"domain":[0,22],"range":[76,417],"nice":false,"zero":false},"axis":null}}},
{"mark":{"type":"point","shape":"triangle-up","size":50,"filled":true,"color":"#E8312F","opacity":1,"strokeWidth":0},"encoding":{"x":{"datum":2.84,"type":"quantitative","scale":{"domain":[0,5],"range":[534,793],"nice":false,"zero":false},"axis":null},"y":{"datum":22.42,"type":"quantitative","scale":{"domain":[0,22],"range":[76,417],"nice":false,"zero":false},"axis":null}}},
{"mark":{"type":"text","text":"Time channel","font":"Liberation Serif","fontSize":17,"color":"#111111","align":"left","baseline":"alphabetic"},"encoding":{"x":{"datum":-0.232,"type":"quantitative","scale":{"domain":[0,5],"range":[534,793],"nice":false,"zero":false},"axis":null},"y":{"datum":25.23,"type":"quantitative","scale":{"domain":[0,22],"range":[76,417],"nice":false,"zero":false},"axis":null}}},
{"mark":{"type":"text","text":"•\u00a0\u00a0\u00a0Continuously","font":"Liberation Serif","fontSize":14,"color":"#111111","align":"left","baseline":"alphabetic"},"encoding":{"x":{"datum":-0.232,"type":"quantitative","scale":{"domain":[0,5],"range":[534,793],"nice":false,"zero":false},"axis":null},"y":{"datum":26.39,"type":"quantitative","scale":{"domain":[0,22],"range":[76,417],"nice":false,"zero":false},"axis":null}}},
{"mark":{"type":"text","text":"Other channels","font":"Liberation Serif","fontSize":17,"color":"#111111","align":"left","baseline":"alphabetic"},"encoding":{"x":{"datum":2.104,"type":"quantitative","scale":{"domain":[0,5],"range":[534,793],"nice":false,"zero":false},"axis":null},"y":{"datum":25.23,"type":"quantitative","scale":{"domain":[0,22],"range":[76,417],"nice":false,"zero":false},"axis":null}}},
{"mark":{"type":"text","text":"•\u00a0\u00a0\u00a0No data modification","font":"Liberation Serif","fontSize":14,"color":"#111111","align":"left","baseline":"alphabetic"},"encoding":{"x":{"datum":2.104,"type":"quantitative","scale":{"domain":[0,5],"range":[534,793],"nice":false,"zero":false},"axis":null},"y":{"datum":26.39,"type":"quantitative","scale":{"domain":[0,22],"range":[76,417],"nice":false,"zero":false},"axis":null}}},
{"mark":{"type":"text","text":"•\u00a0\u00a0\u00a0Rename channel name","font":"Liberation Serif","fontSize":14,"color":"#111111","align":"left","baseline":"alphabetic"},"encoding":{"x":{"datum":2.104,"type":"quantitative","scale":{"domain":[0,5],"range":[534,793],"nice":false,"zero":false},"axis":null},"y":{"datum":27.55,"type":"quantitative","scale":{"domain":[0,22],"range":[76,417],"nice":false,"zero":false},"axis":null}}}
]
},
{
"layer":[
{"data":{"values":[{}]},"mark":{"type":"rect","filled":false,"color":"#A6A6A6","strokeWidth":1.5},"encoding":{"x":{"datum":39076,"type":"quantitative","scale":{"domain":[39200,40000],"range":[915,1189],"nice":false,"zero":false},"axis":null},"x2":{"datum":40023},"y":{"datum":54.602,"type":"quantitative","scale":{"domain":[55,57],"range":[278,82],"nice":false,"zero":false},"axis":null},"y2":{"datum":57.232}}},
{"data":{"name":"iticks"},"transform":[{"filter":"datum.a === 'x'"}],"mark":{"type":"rule","color":"#BFBFBF","strokeWidth":1.5},"encoding":{"x":{"field":"v","type":"quantitative","scale":{"domain":[39200,40000],"range":[915,1189],"nice":false,"zero":false},"axis":null},"y":{"datum":55,"type":"quantitative","scale":{"domain":[55,57],"range":[278,82],"nice":false,"zero":false},"axis":null},"y2":{"datum":57}}},
{"data":{"name":"iticks"},"transform":[{"filter":"datum.a === 'y'"}],"mark":{"type":"rule","color":"#BFBFBF","strokeWidth":1.5},"encoding":{"y":{"field":"v","type":"quantitative","scale":{"domain":[55,57],"range":[278,82],"nice":false,"zero":false},"axis":null},"x":{"datum":39200,"type":"quantitative","scale":{"domain":[39200,40000],"range":[915,1189],"nice":false,"zero":false},"axis":null},"x2":{"datum":40000}}},
{"data":{"name":"iticks"},"transform":[{"filter":"datum.a === 'x'"}],"mark":{"type":"text","font":"Liberation Serif","fontSize":17,"color":"#000000","align":"center","baseline":"top","dy":10},"encoding":{"x":{"field":"v","type":"quantitative","scale":{"domain":[39200,40000],"range":[915,1189],"nice":false,"zero":false},"axis":null},"y":{"datum":55,"type":"quantitative","scale":{"domain":[55,57],"range":[278,82],"nice":false,"zero":false},"axis":null},"text":{"field":"lab","type":"nominal"}}},
{"data":{"name":"iticks"},"transform":[{"filter":"datum.a === 'y'"}],"mark":{"type":"text","font":"Liberation Serif","fontSize":17,"color":"#000000","align":"right","baseline":"middle","dx":-13},"encoding":{"y":{"field":"v","type":"quantitative","scale":{"domain":[55,57],"range":[278,82],"nice":false,"zero":false},"axis":null},"x":{"datum":39200,"type":"quantitative","scale":{"domain":[39200,40000],"range":[915,1189],"nice":false,"zero":false},"axis":null},"text":{"field":"lab","type":"nominal"}}},
{"data":{"name":"inset"},"transform":[{"filter":"datum.s === 'r'"}],"mark":{"type":"line","color":"#2E6EBC","strokeWidth":2},"encoding":{"x":{"field":"t","type":"quantitative","scale":{"domain":[39200,40000],"range":[915,1189],"nice":false,"zero":false},"axis":null},"y":{"field":"v","type":"quantitative","scale":{"domain":[55,57],"range":[278,82],"nice":false,"zero":false},"axis":null}}},
{"data":{"name":"inset"},"transform":[{"filter":"datum.s === 'f'"}],"mark":{"type":"line","color":"#D9262C","strokeWidth":1.2},"encoding":{"x":{"field":"t","type":"quantitative","scale":{"domain":[39200,40000],"range":[915,1189],"nice":false,"zero":false},"axis":null},"y":{"field":"v","type":"quantitative","scale":{"domain":[55,57],"range":[278,82],"nice":false,"zero":false},"axis":null}}},
{"data":{"values":[{}]},"mark":{"type":"rect","filled":false,"color":"#A6A6A6","strokeWidth":1.2},"encoding":{"x":{"datum":39200,"type":"quantitative","scale":{"domain":[39200,40000],"range":[915,1189],"nice":false,"zero":false},"axis":null},"x2":{"datum":40000},"y":{"datum":55,"type":"quantitative","scale":{"domain":[55,57],"range":[278,82],"nice":false,"zero":false},"axis":null},"y2":{"datum":57}}},
{"data":{"values":[{}]},"mark":{"type":"text","text":"Filter data","font":"Liberation Serif","fontSize":19,"fontWeight":"bold","color":"#2E74B5","align":"center","baseline":"alphabetic"},"encoding":{"x":{"datum":39469,"type":"quantitative","scale":{"domain":[39200,40000],"range":[915,1189],"nice":false,"zero":false},"axis":null},"y":{"datum":57.46,"type":"quantitative","scale":{"domain":[55,57],"range":[278,82],"nice":false,"zero":false},"axis":null}}}
]
},
{
"layer":[
{"data":{"name":"mticks"},"transform":[{"filter":"datum.a === 'x'"}],"mark":{"type":"rule","color":"#BFBFBF","strokeWidth":1.5},"encoding":{"x":{"field":"v","type":"quantitative","scale":{"domain":[0,50000],"range":[865,1251],"nice":false,"zero":false},"axis":null},"y":{"datum":-80,"type":"quantitative","scale":{"domain":[-80,80],"range":[646,357],"nice":false,"zero":false},"axis":null},"y2":{"datum":80}}},
{"data":{"name":"mticks"},"transform":[{"filter":"datum.a === 'y'"}],"mark":{"type":"rule","color":"#BFBFBF","strokeWidth":1.5},"encoding":{"y":{"field":"v","type":"quantitative","scale":{"domain":[-80,80],"range":[646,357],"nice":false,"zero":false},"axis":null},"x":{"datum":0,"type":"quantitative","scale":{"domain":[0,50000],"range":[865,1251],"nice":false,"zero":false},"axis":null},"x2":{"datum":50000}}},
{"data":{"name":"mticks"},"transform":[{"filter":"datum.a === 'x'"}],"mark":{"type":"text","font":"Liberation Serif","fontSize":18,"color":"#000000","align":"center","baseline":"top","dy":13},"encoding":{"x":{"field":"v","type":"quantitative","scale":{"domain":[0,50000],"range":[865,1251],"nice":false,"zero":false},"axis":null},"y":{"datum":-80,"type":"quantitative","scale":{"domain":[-80,80],"range":[646,357],"nice":false,"zero":false},"axis":null},"text":{"field":"lab","type":"nominal"}}},
{"data":{"name":"mticks"},"transform":[{"filter":"datum.a === 'y'"}],"mark":{"type":"text","font":"Liberation Serif","fontSize":18,"color":"#000000","align":"right","baseline":"middle","dx":-16},"encoding":{"y":{"field":"v","type":"quantitative","scale":{"domain":[-80,80],"range":[646,357],"nice":false,"zero":false},"axis":null},"x":{"datum":0,"type":"quantitative","scale":{"domain":[0,50000],"range":[865,1251],"nice":false,"zero":false},"axis":null},"text":{"field":"lab","type":"nominal"}}},
{"data":{"values":[{}]},"mark":{"type":"text","text":"Time","font":"Liberation Serif","fontSize":18,"color":"#000000","align":"center","baseline":"middle"},"encoding":{"x":{"datum":26100,"type":"quantitative","scale":{"domain":[0,50000],"range":[865,1251],"nice":false,"zero":false},"axis":null},"y":{"datum":-104.4,"type":"quantitative","scale":{"domain":[-80,80],"range":[646,357],"nice":false,"zero":false},"axis":null}}},
{"data":{"values":[{}]},"mark":{"type":"text","text":"Displacement\u00a0\u00a0(mm)","font":"Liberation Serif","fontSize":18,"color":"#000000","align":"center","baseline":"middle","angle":270},"encoding":{"x":{"datum":-6865,"type":"quantitative","scale":{"domain":[0,50000],"range":[865,1251],"nice":false,"zero":false},"axis":null},"y":{"datum":3.0,"type":"quantitative","scale":{"domain":[-80,80],"range":[646,357],"nice":false,"zero":false},"axis":null}}},
{"data":{"values":[{}]},"mark":{"type":"rule","color":"#7F7F7F","strokeWidth":1.5},"encoding":{"x":{"datum":0,"type":"quantitative","scale":{"domain":[0,50000],"range":[865,1251],"nice":false,"zero":false},"axis":null},"x2":{"datum":50000},"y":{"datum":0,"type":"quantitative","scale":{"domain":[-80,80],"range":[646,357],"nice":false,"zero":false},"axis":null}}},
{"data":{"name":"main"},"transform":[{"filter":"datum.s === 'Filter data'"}],"mark":{"type":"line"},"encoding":{
"x":{"field":"t","type":"quantitative","scale":{"domain":[0,50000],"range":[865,1251],"nice":false,"zero":false},"axis":null},
"y":{"field":"v","type":"quantitative","scale":{"domain":[-80,80],"range":[646,357],"nice":false,"zero":false},"axis":null},
"color":{"field":"s","type":"nominal","scale":{"domain":["Raw data","Filter data"],"range":["#4470B0","#E0303A"]},"legend":{"title":null,"orient":"none","legendX":873,"legendY":582,"symbolType":"stroke","symbolSize":400,"labelFont":"Liberation Serif","labelFontSize":17,"labelColor":"#000000","strokeColor":"#8C8C8C","fillColor":"#FFFFFF","padding":5,"rowPadding":9,"labelOffset":3}},
"strokeWidth":{"field":"s","type":"nominal","scale":{"domain":["Raw data","Filter data"],"range":[2.5,1]},"legend":{"title":null,"orient":"none","legendX":873,"legendY":582,"symbolType":"stroke","symbolSize":400,"labelFont":"Liberation Serif","labelFontSize":17,"labelColor":"#000000","strokeColor":"#8C8C8C","fillColor":"#FFFFFF","padding":5,"rowPadding":9,"labelOffset":3}}}},
{"data":{"name":"main"},"transform":[{"filter":"datum.s === 'Raw data'"}],"mark":{"type":"line"},"encoding":{
"x":{"field":"t","type":"quantitative","scale":{"domain":[0,50000],"range":[865,1251],"nice":false,"zero":false},"axis":null},
"y":{"field":"v","type":"quantitative","scale":{"domain":[-80,80],"range":[646,357],"nice":false,"zero":false},"axis":null},
"color":{"field":"s","type":"nominal","scale":{"domain":["Raw data","Filter data"],"range":["#4470B0","#E0303A"]},"legend":{"title":null,"orient":"none","legendX":873,"legendY":582,"symbolType":"stroke","symbolSize":400,"labelFont":"Liberation Serif","labelFontSize":17,"labelColor":"#000000","strokeColor":"#8C8C8C","fillColor":"#FFFFFF","padding":5,"rowPadding":9,"labelOffset":3}},
"strokeWidth":{"field":"s","type":"nominal","scale":{"domain":["Raw data","Filter data"],"range":[2.5,1]},"legend":{"title":null,"orient":"none","legendX":873,"legendY":582,"symbolType":"stroke","symbolSize":400,"labelFont":"Liberation Serif","labelFontSize":17,"labelColor":"#000000","strokeColor":"#8C8C8C","fillColor":"#FFFFFF","padding":5,"rowPadding":9,"labelOffset":3}}}},
{"data":{"values":[{}]},"mark":{"type":"rect","filled":false,"color":"#A6A6A6","strokeWidth":1.5},"encoding":{"x":{"datum":0,"type":"quantitative","scale":{"domain":[0,50000],"range":[865,1251],"nice":false,"zero":false},"axis":null},"x2":{"datum":50000},"y":{"datum":-80,"type":"quantitative","scale":{"domain":[-80,80],"range":[646,357],"nice":false,"zero":false},"axis":null},"y2":{"datum":80}}},
{"data":{"values":[{}]},"mark":{"type":"rule","color":"#A0A0A0","strokeWidth":1},"encoding":{"x":{"datum":23575,"type":"quantitative","scale":{"domain":[0,50000],"range":[865,1251],"nice":false,"zero":false},"axis":null},"x2":{"datum":38212},"y":{"datum":102.2,"type":"quantitative","scale":{"domain":[-80,80],"range":[646,357],"nice":false,"zero":false},"axis":null},"y2":{"datum":62.96}}},
{"data":{"values":[{}]},"mark":{"type":"point","shape":"M-1,0A1,0.7,0,1,1,1,0A1,0.7,0,1,1,-1,0Z","size":1296,"filled":false,"color":"#8C8C8C","strokeWidth":1.5,"opacity":1},"encoding":{"x":{"datum":39249,"type":"quantitative","scale":{"domain":[0,50000],"range":[865,1251],"nice":false,"zero":false},"axis":null},"y":{"datum":56.75,"type":"quantitative","scale":{"domain":[-80,80],"range":[646,357],"nice":false,"zero":false},"axis":null}}},
{"data":{"values":[{}]},"mark":{"type":"rect","fill":"#FFFFFF","stroke":"#8C8C8C","strokeWidth":1.2},"encoding":{"x":{"datum":12176,"type":"quantitative","scale":{"domain":[0,50000],"range":[865,1251],"nice":false,"zero":false},"axis":null},"x2":{"datum":35881},"y":{"datum":62.8,"type":"quantitative","scale":{"domain":[-80,80],"range":[646,357],"nice":false,"zero":false},"axis":null},"y2":{"datum":76.1}}},
{"data":{"values":[{}]},"mark":{"type":"text","text":"Data of DW1 for wall C1","font":"Liberation Serif","fontSize":17,"color":"#111111","align":"center","baseline":"alphabetic"},"encoding":{"x":{"datum":24030,"type":"quantitative","scale":{"domain":[0,50000],"range":[865,1251],"nice":false,"zero":false},"axis":null},"y":{"datum":65.6,"type":"quantitative","scale":{"domain":[-80,80],"range":[646,357],"nice":false,"zero":false},"axis":null}}}
]
}
]
}
